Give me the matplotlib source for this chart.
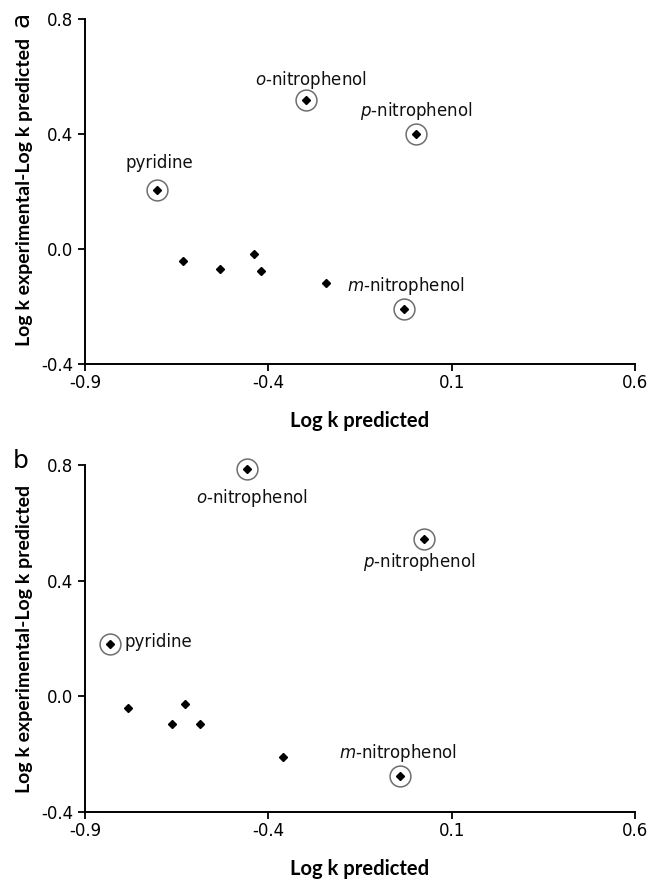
import matplotlib

matplotlib.use("Agg")
import matplotlib.pyplot as plt

plt.rcParams["font.family"] = ["DejaVu Sans"]
plt.rcParams["axes.unicode_minus"] = False
plt.rcParams["mathtext.fontset"] = "dejavusans"

# highlighted compounds (same order in both panels)
compounds = [
    "pyridine",
    r"$\mathit{o}$-nitrophenol",
    r"$\mathit{p}$-nitrophenol",
    r"$\mathit{m}$-nitrophenol",
]

# panel a: log k predicted vs residual (log k exp - log k pred)
a_pred_named = [-0.703, -0.296, 0.003, -0.030]
a_resid_named = [0.205, 0.517, 0.399, -0.210]
a_pred_other = [-0.632, -0.531, -0.440, -0.421, -0.244]
a_resid_other = [-0.043, -0.069, -0.018, -0.077, -0.117]

# panel b
b_pred_named = [-0.833, -0.457, 0.024, -0.041]
b_resid_named = [0.180, 0.786, 0.545, -0.276]
b_pred_other = [-0.782, -0.662, -0.627, -0.586, -0.359]
b_resid_other = [-0.042, -0.096, -0.025, -0.096, -0.211]

x_ticks = [-0.9, -0.4, 0.1, 0.6]
y_ticks = [-0.4, 0.0, 0.4, 0.8]

# label offsets in points (dx, dy, ha)
a_offsets = [(1.5, 19.5, "center"), (3.5, 14.5, "center"), (0, 17, "center"), (1.5, 16.5, "center")]
b_offsets = [(10.5, 1.5, "left"), (3.0, -21, "center"), (-3.5, -17, "center"), (-1.5, 16.5, "center")]

LABEL_FONT = "Lato"


def draw_panel(ax, x_named, y_named, x_other, y_other, offsets):
    ax.plot(x_other, y_other, "D", ms=4, color="black", linestyle="none")
    ax.plot(x_named, y_named, "D", ms=4, color="black", linestyle="none")
    ax.plot(x_named, y_named, "o", ms=15, mfc="none", mec="#6e6e6e", mew=1.1,
            linestyle="none", clip_on=False)
    for name, x, y, (dx, dy, ha) in zip(compounds, x_named, y_named, offsets):
        ax.annotate(name, (x, y), xytext=(dx, dy), textcoords="offset points",
                    ha=ha, va="center", fontsize=12, color="#111111")

    ax.set_xlim(x_ticks[0], x_ticks[-1])
    ax.set_ylim(y_ticks[0], y_ticks[-1])
    ax.set_xticks(x_ticks)
    ax.set_xticklabels([f"{t:.1f}" for t in x_ticks])
    ax.set_yticks(y_ticks)
    ax.set_yticklabels([f"{t:.1f}" for t in y_ticks])
    ax.tick_params(direction="out", length=5, width=1.3, labelsize=12, pad=3.5)
    ax.tick_params(axis="x", pad=2)
    for side in ("top", "right"):
        ax.spines[side].set_visible(False)
    for side in ("left", "bottom"):
        ax.spines[side].set_linewidth(1.4)
    ax.set_xlabel("Log k predicted", family=LABEL_FONT, fontweight="bold", fontsize=14.5, labelpad=14)
    ax.set_ylabel("Log k experimental-Log k predicted", family=LABEL_FONT, fontweight="bold",
                  fontsize=14, labelpad=6)


fig = plt.figure(figsize=(6.49, 8.80), dpi=100)
ax_a = fig.add_axes([0.131, 0.5864, 0.8475, 0.392])
ax_b = fig.add_axes([0.131, 0.0773, 0.8475, 0.3943])

draw_panel(ax_a, a_pred_named, a_resid_named, a_pred_other, a_resid_other, a_offsets)
draw_panel(ax_b, b_pred_named, b_resid_named, b_pred_other, b_resid_other, b_offsets)

fig.text(21 / 649, 1 - 19 / 880, "a", rotation=90, fontsize=18, ha="center", va="center")
fig.text(21 / 649, 1 - 461 / 880, "b", fontsize=18, ha="center", va="center")

fig.savefig("out.png", dpi=100)
